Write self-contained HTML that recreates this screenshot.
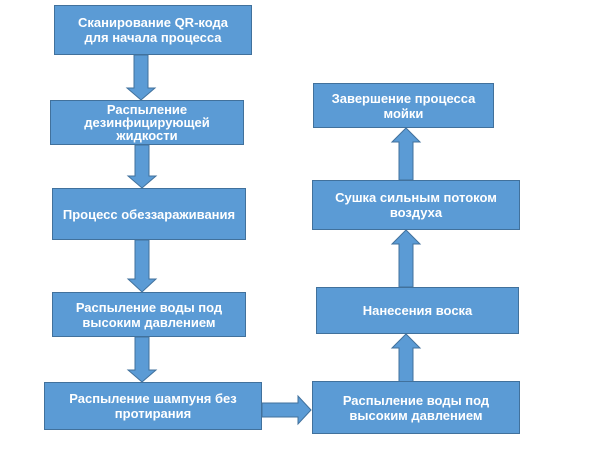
<!DOCTYPE html>
<html><head><meta charset="utf-8"><style>
body{margin:0;width:600px;height:450px;background:#fff;position:relative;overflow:hidden;font-family:"Liberation Sans",sans-serif;}
.b{position:absolute;background:#5b9bd5;border:1px solid #41719c;box-sizing:border-box;color:#fff;font-weight:bold;font-size:13px;line-height:15px;display:flex;align-items:center;justify-content:center;text-align:center;}
svg{position:absolute;left:0;top:0}
</style></head><body>
<svg width="600" height="450">
<g fill="#5b9bd5" stroke="#41719c" stroke-width="1">
<polygon points="134,55 148,55 148,88 155,88 141,100 127,88 134,88"/>
<polygon points="135,145 149,145 149,176 156,176 142,188 128,176 135,176"/>
<polygon points="135,240 149,240 149,279 156,279 142,292 128,279 135,279"/>
<polygon points="135,337 149,337 149,370 156,370 142,382 128,370 135,370"/>
<polygon points="262,403 298,403 298,396 311,410 298,424 298,417 262,417"/>
<polygon points="399,382 413,382 413,348 420,348 406,334 392,348 399,348"/>
<polygon points="399,287 413,287 413,244 420,244 406,230 392,244 399,244"/>
<polygon points="399,180 413,180 413,142 420,142 406,128 392,142 399,142"/>
</g></svg>
<div class="b" style="left:54px;top:5px;width:198px;height:50px">Сканирование QR-кода<br>для начала процесса</div>
<div class="b" style="left:50px;top:100px;width:194px;height:45px;line-height:13px">Распыление<br>дезинфицирующей<br>жидкости</div>
<div class="b" style="left:52px;top:188px;width:194px;height:52px">Процесс обеззараживания</div>
<div class="b" style="left:52px;top:292px;width:194px;height:45px">Распыление воды под<br>высоким давлением</div>
<div class="b" style="left:44px;top:382px;width:218px;height:48px">Распыление шампуня без<br>протирания</div>
<div class="b" style="left:312px;top:381px;width:208px;height:53px">Распыление воды под<br>высоким давлением</div>
<div class="b" style="left:316px;top:287px;width:203px;height:47px">Нанесения воска</div>
<div class="b" style="left:312px;top:180px;width:208px;height:50px">Сушка сильным потоком<br>воздуха</div>
<div class="b" style="left:313px;top:83px;width:181px;height:45px">Завершение процесса<br>мойки</div>
</body></html>
